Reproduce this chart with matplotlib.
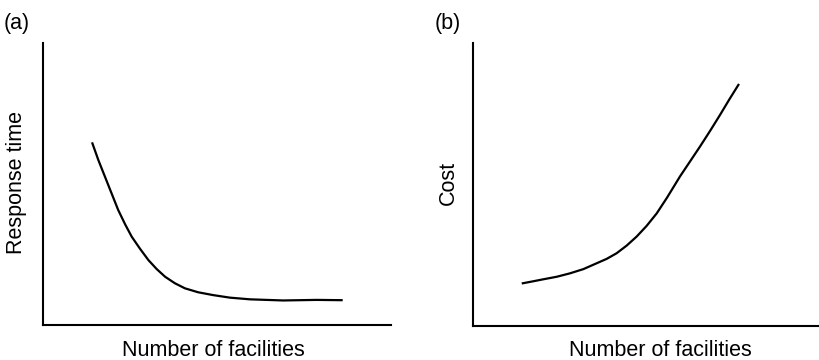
import matplotlib
matplotlib.use("Agg")
import matplotlib.pyplot as plt

plt.rcParams["font.family"] = ["Liberation Sans", "DejaVu Sans"]

# values, axis units 0..10
resp_x = [1.42, 1.59, 1.78, 1.97, 2.16, 2.36, 2.55, 2.79, 3.03, 3.27, 3.51,
          3.79, 4.08, 4.46, 4.89, 5.37, 5.95, 6.90, 7.86, 8.58]
resp_y = [6.44, 5.85, 5.26, 4.67, 4.08, 3.57, 3.13, 2.70, 2.30, 1.98, 1.71,
          1.48, 1.30, 1.16, 1.06, 0.97, 0.91, 0.87, 0.89, 0.88]

cost_x = [1.44, 1.74, 2.03, 2.42, 2.80, 3.19, 3.58, 3.86, 4.15, 4.44, 4.73,
          5.02, 5.31, 5.61, 5.98, 6.27, 6.56, 6.85, 7.14, 7.40, 7.67]
cost_y = [1.51, 1.58, 1.65, 1.74, 1.86, 2.01, 2.22, 2.37, 2.57, 2.84, 3.16,
          3.54, 3.98, 4.54, 5.28, 5.81, 6.34, 6.89, 7.46, 7.99, 8.52]

INK = "black"
W, H = 819, 360

fig = plt.figure(figsize=(W / 100, H / 100), dpi=100)
fig.patch.set_facecolor("white")


def panel(rect, x, y):
    ax = fig.add_axes(rect)
    ax.plot(x, y, color=INK, lw=1.6, solid_joinstyle="round")
    ax.set_xlim(0, 10)
    ax.set_ylim(0, 10)
    for s in ["top", "right"]:
        ax.spines[s].set_visible(False)
    for s in ["left", "bottom"]:
        ax.spines[s].set_linewidth(1.5)
        ax.spines[s].set_color(INK)
    ax.set_xticks([])
    ax.set_yticks([])
    return ax


panel([43 / W, 1 - 325 / H, 348 / W, 282 / H], resp_x, resp_y)
panel([473 / W, 1 - 326 / H, 346 / W, 283 / H], cost_x, cost_y)

fs = 15.5
fig.text(4 / W, 1 - 23 / H, "(a)", fontsize=fs, ha="left", va="center", color=INK)
fig.text(435 / W, 1 - 23 / H, "(b)", fontsize=fs, ha="left", va="center", color=INK)
fig.text(213 / W, 1 - 350 / H, "Number of facilities", fontsize=fs,
         ha="center", va="center", color=INK)
fig.text(660 / W, 1 - 350 / H, "Number of facilities", fontsize=fs,
         ha="center", va="center", color=INK)
fig.text(17 / W, 1 - 182 / H, "Response time", fontsize=fs, rotation=90,
         ha="center", va="center", color=INK)
fig.text(448 / W, 1 - 183 / H, "Cost", fontsize=fs, rotation=90,
         ha="center", va="center", color=INK)

fig.savefig("out.png", dpi=100, facecolor="white")
